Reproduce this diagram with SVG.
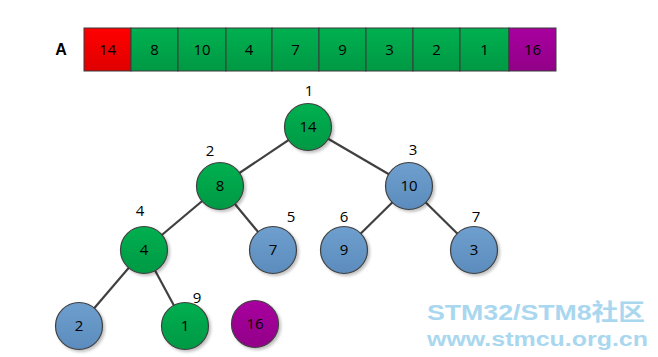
<svg xmlns="http://www.w3.org/2000/svg" width="658" height="357" viewBox="0 0 658 357">
<defs>
<linearGradient id="gG" x1="0" y1="0" x2="0" y2="1"><stop offset="0" stop-color="#00b050"/><stop offset="1" stop-color="#009944"/></linearGradient>
<linearGradient id="gB" x1="0" y1="0" x2="0" y2="1"><stop offset="0" stop-color="#6e9fce"/><stop offset="1" stop-color="#5b8cbd"/></linearGradient>
<linearGradient id="gP" x1="0" y1="0" x2="0" y2="1"><stop offset="0" stop-color="#a8009f"/><stop offset="1" stop-color="#920088"/></linearGradient>
<linearGradient id="gR" x1="0" y1="0" x2="0" y2="1"><stop offset="0" stop-color="#ff0000"/><stop offset="1" stop-color="#e00000"/></linearGradient>
<filter id="sh" x="-30%" y="-30%" width="170%" height="170%"><feGaussianBlur in="SourceAlpha" stdDeviation="1.5"/><feOffset dx="2" dy="2"/><feComponentTransfer><feFuncA type="linear" slope="0.25"/></feComponentTransfer><feMerge><feMergeNode/><feMergeNode in="SourceGraphic"/></feMerge></filter>
</defs>
<style>
.cell{stroke:#3a3a3a;stroke-width:1}
.n{stroke:#404040;stroke-width:1.2;filter:url(#sh)}
.t{font-family:"Open Sans","Liberation Sans",sans-serif;font-size:15px;fill:#000;text-anchor:middle}
.e{stroke:#404040;stroke-width:2.2;fill:none}
.wm{font-family:"Liberation Sans","Noto Sans CJK SC",sans-serif;font-weight:bold;fill:#a9d7ef}
</style>
<rect width="658" height="357" fill="#fff"/>
<text x="61" y="55" font-family="Liberation Sans,sans-serif" font-weight="bold" font-size="16" text-anchor="middle">A</text>
<g id="array">
<rect class="cell" x="84" y="28" width="47" height="43" fill="url(#gR)"/>
<rect class="cell" x="131" y="28" width="47" height="43" fill="url(#gG)"/>
<rect class="cell" x="178" y="28" width="48" height="43" fill="url(#gG)"/>
<rect class="cell" x="226" y="28" width="46" height="43" fill="url(#gG)"/>
<rect class="cell" x="272" y="28" width="47" height="43" fill="url(#gG)"/>
<rect class="cell" x="319" y="28" width="47" height="43" fill="url(#gG)"/>
<rect class="cell" x="366" y="28" width="47" height="43" fill="url(#gG)"/>
<rect class="cell" x="413" y="28" width="47" height="43" fill="url(#gG)"/>
<rect class="cell" x="460" y="28" width="49" height="43" fill="url(#gG)"/>
<rect class="cell" x="509" y="28" width="47" height="43" fill="url(#gP)"/>
<text class="t" x="107.5" y="55">14</text>
<text class="t" x="154.5" y="55">8</text>
<text class="t" x="202" y="55">10</text>
<text class="t" x="249" y="55">4</text>
<text class="t" x="295.5" y="55">7</text>
<text class="t" x="342.5" y="55">9</text>
<text class="t" x="389.5" y="55">3</text>
<text class="t" x="436.5" y="55">2</text>
<text class="t" x="484.5" y="55">1</text>
<text class="t" x="532.5" y="55">16</text>
</g>
<g id="edges">
<line class="e" x1="308" y1="127" x2="220" y2="186"/>
<line class="e" x1="308" y1="127" x2="409" y2="186"/>
<line class="e" x1="220" y1="186" x2="144" y2="250"/>
<line class="e" x1="220" y1="186" x2="273" y2="250"/>
<line class="e" x1="409" y1="186" x2="344" y2="250"/>
<line class="e" x1="409" y1="186" x2="474" y2="250"/>
<line class="e" x1="144" y1="250" x2="79" y2="326"/>
<line class="e" x1="144" y1="250" x2="185" y2="326"/>
</g>
<g id="n14"><circle class="n" cx="308" cy="127" r="23.5" fill="url(#gG)"/><text class="t" x="308" y="132">14</text><text class="t" x="309" y="96">1</text></g>
<g id="n8"><circle class="n" cx="220" cy="186" r="23.5" fill="url(#gG)"/><text class="t" x="220" y="191">8</text><text class="t" x="210" y="156">2</text></g>
<g id="n10"><circle class="n" cx="409" cy="186" r="23.5" fill="url(#gB)"/><text class="t" x="409" y="191">10</text><text class="t" x="413" y="155">3</text></g>
<g id="n4"><circle class="n" cx="144" cy="250" r="23.5" fill="url(#gG)"/><text class="t" x="144" y="255">4</text><text class="t" x="140" y="216">4</text></g>
<g id="n7"><circle class="n" cx="273" cy="250" r="23.5" fill="url(#gB)"/><text class="t" x="273" y="255">7</text><text class="t" x="291" y="222">5</text></g>
<g id="n9"><circle class="n" cx="344" cy="250" r="23.5" fill="url(#gB)"/><text class="t" x="344" y="255">9</text><text class="t" x="344" y="222">6</text></g>
<g id="n3"><circle class="n" cx="474" cy="250" r="23.5" fill="url(#gB)"/><text class="t" x="474" y="255">3</text><text class="t" x="476" y="222">7</text></g>
<g id="n2"><circle class="n" cx="79" cy="326" r="23.5" fill="url(#gB)"/><text class="t" x="79" y="331">2</text></g>
<g id="n1"><circle class="n" cx="185" cy="326" r="23.5" fill="url(#gG)"/><text class="t" x="185" y="331">1</text><text class="t" x="197" y="303">9</text></g>
<g id="n16"><circle class="n" cx="255" cy="324" r="23.5" fill="url(#gP)"/><text class="t" x="255" y="329">16</text></g>
<text class="wm" x="427" y="320" font-size="22.5" textLength="218" lengthAdjust="spacingAndGlyphs">STM32/STM8社区</text>
<text class="wm" x="427" y="346" font-size="21" textLength="221" lengthAdjust="spacingAndGlyphs">www.stmcu.org.cn</text>
</svg>
